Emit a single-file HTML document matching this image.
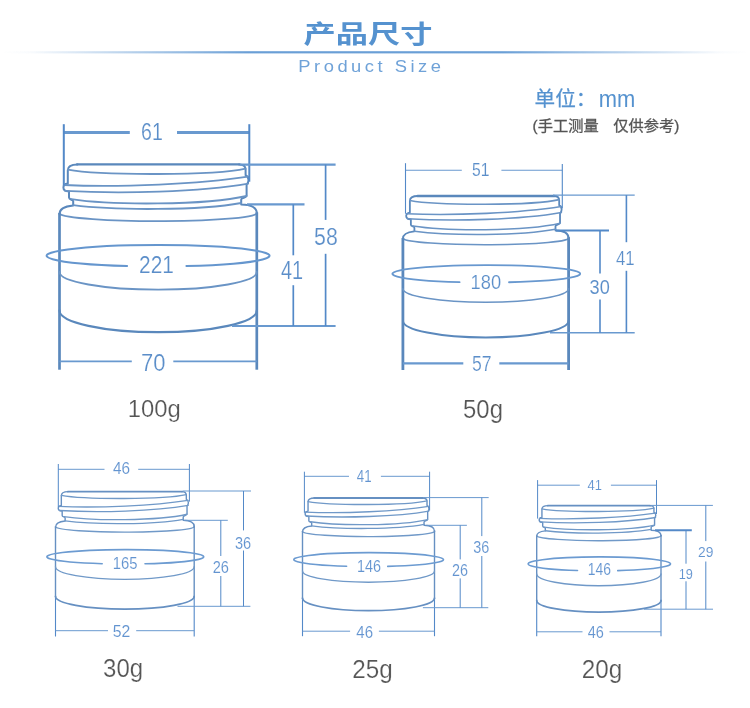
<!DOCTYPE html>
<html lang="zh"><head><meta charset="utf-8"><title>产品尺寸 Product Size</title>
<style>
html,body{margin:0;padding:0;background:#fff;}
body{width:750px;height:708px;overflow:hidden;font-family:"Liberation Sans",sans-serif;}
svg{display:block;position:absolute;left:0;top:0;}
svg text{font-family:"Liberation Sans","Noto Sans CJK SC",sans-serif;}
</style></head><body>
<svg width="750" height="708" viewBox="0 0 750 708">
<defs><linearGradient id="hl" x1="0" y1="0" x2="1" y2="0"><stop offset="0" stop-color="#6a9fd6" stop-opacity="0"/><stop offset="0.04" stop-color="#6a9fd6" stop-opacity="0.04"/><stop offset="0.33" stop-color="#6a9fd6" stop-opacity="1"/><stop offset="0.67" stop-color="#6a9fd6" stop-opacity="1"/><stop offset="0.96" stop-color="#6a9fd6" stop-opacity="0.04"/><stop offset="1" stop-color="#6a9fd6" stop-opacity="0"/></linearGradient></defs>
<g opacity="0.999">
<rect x="0" y="51.2" width="750" height="2.2" fill="url(#hl)"/>
<text transform="translate(303.5,43.4) scale(1.3,1)" font-size="24.8" font-weight="bold" fill="#5592cf">产品尺寸</text>
<text x="534.6" y="105.6" font-size="20.6" fill="#5592cf" stroke="#5592cf" stroke-width="0.25">单位：</text>
<text transform="translate(598.7,106.5) scale(0.903,1)" font-size="24.27" fill="#5592cf">mm</text>
<text transform="translate(532.6,130.6) scale(1,0.957)" font-size="15.26" fill="#555555" stroke="#555555" stroke-width="0.3">(手工测量</text>
<text transform="translate(613.2,130.6) scale(1,0.957)" font-size="15.26" fill="#555555" stroke="#555555" stroke-width="0.3">仅供参考)</text>
<text transform="translate(298.3,72.4) scale(1.08,1)" font-size="17" letter-spacing="3.25" fill="#6fa2d8">Product Size</text>
<g>
<path d="M59.5,214 C59.5,209 64,206.2 73.2,205.4 L73.2,201.2 C73.2,199.4 69,200 69,197.6 L69,191.6 C65,191.4 63.4,190 63.4,187.6 C63.4,185.2 65,184 67.8,183.6 L67.8,170.2 C67.8,166.2 71,164.4 77.5,164.4" fill="none" stroke="#5a88bc" stroke-width="2" stroke-linecap="round" stroke-linejoin="round"/>
<line x1="77" y1="164.4" x2="239.5" y2="164.4" stroke="#5a88bc" stroke-width="2.2" stroke-linecap="round"/>
<path d="M239,164.4 C243.2,164.4 245.6,166 245.6,169.4 L245.6,175.2 C247.6,176 248.5,178 248.5,180 C248.5,182.4 247.6,183.6 246.6,184.6 L246.6,195.4 C246.6,198 241.2,197.4 241.2,199.6 L241.2,204.4 C250,204.6 256.8,207 256.8,213.2" fill="none" stroke="#5a88bc" stroke-width="2" stroke-linecap="round" stroke-linejoin="round"/>
<path d="M67.8,169.6 C100,175.6 215,175.6 245.6,168.6" fill="none" stroke="#6a94c5" stroke-width="1.8" stroke-linecap="round" stroke-linejoin="round"/>
<path d="M64,185 C120,187.6 200,184 248,176.6" fill="none" stroke="#6a94c5" stroke-width="1.8" stroke-linecap="round" stroke-linejoin="round"/>
<path d="M65,190.8 C120,194 200,192 248.2,183.6" fill="none" stroke="#6a94c5" stroke-width="1.8" stroke-linecap="round" stroke-linejoin="round"/>
<path d="M71.4,199.2 C110,205.2 205,205.6 246.6,196" fill="none" stroke="#6a94c5" stroke-width="1.8" stroke-linecap="round" stroke-linejoin="round"/>
<path d="M73.2,205.2 C115,210.6 200,210.6 241.2,203" fill="none" stroke="#6a94c5" stroke-width="1.8" stroke-linecap="round" stroke-linejoin="round"/>
<path d="M59.5,213.6 A98.65 8 0 0 0 256.8,212.6" fill="none" stroke="#6a94c5" stroke-width="1.8" stroke-linecap="round" stroke-linejoin="round"/>
<line x1="59.5" y1="213.1" x2="59.5" y2="369.7" stroke="#5a88bc" stroke-width="2.7"/>
<line x1="256.8" y1="212.4" x2="256.8" y2="369.7" stroke="#5a88bc" stroke-width="2.7"/>
<path d="M59.5,272 A98.65 17.7 0 0 0 256.8,272" fill="none" stroke="#6a94c5" stroke-width="1.8" stroke-linecap="round" stroke-linejoin="round"/>
<path d="M59.5,310.4 A98.65 21.8 0 0 0 256.8,310.4" fill="none" stroke="#5a88bc" stroke-width="2.2" stroke-linecap="round" stroke-linejoin="round"/>
<path d="M127.1,265.98 A111.5 10.7 0 1 1 186.4,266.05" fill="none" stroke="#6596ce" stroke-width="2" stroke-linecap="round" stroke-linejoin="round"/>
<line x1="63.8" y1="132.5" x2="129.8" y2="132.5" stroke="#6999cf" stroke-width="3"/>
<line x1="177" y1="132.5" x2="249.3" y2="132.5" stroke="#6999cf" stroke-width="3"/>
<line x1="63.8" y1="124.2" x2="63.8" y2="185.6" stroke="#5389c8" stroke-width="2"/>
<line x1="249.3" y1="124.2" x2="249.3" y2="181.7" stroke="#5389c8" stroke-width="2"/>
<line x1="240" y1="164.6" x2="335.6" y2="164.6" stroke="#6999cf" stroke-width="2.2"/>
<line x1="247" y1="204.4" x2="304.5" y2="204.4" stroke="#6999cf" stroke-width="2.2"/>
<line x1="232" y1="326" x2="335.6" y2="326" stroke="#6999cf" stroke-width="2.2"/>
<line x1="325.6" y1="164.6" x2="325.6" y2="219.9" stroke="#5389c8" stroke-width="1.7"/>
<line x1="325.6" y1="253.8" x2="325.6" y2="326" stroke="#5389c8" stroke-width="1.7"/>
<line x1="293.3" y1="204.4" x2="293.3" y2="255.3" stroke="#5389c8" stroke-width="1.7"/>
<line x1="293.3" y1="285.2" x2="293.3" y2="326" stroke="#5389c8" stroke-width="1.7"/>
<line x1="59.5" y1="361.4" x2="131.8" y2="361.4" stroke="#6999cf" stroke-width="1.8"/>
<line x1="173.3" y1="361.4" x2="256.8" y2="361.4" stroke="#6999cf" stroke-width="1.8"/>
<text transform="translate(141.1,139.85) scale(0.797,1)" font-size="24.59" fill="#5b8ec9" stroke="#ffffff" stroke-width="0.2">61</text>
<text transform="translate(314.1,244.96) scale(0.887,1)" font-size="24.03" fill="#5b8ec9" stroke="#ffffff" stroke-width="0.2">58</text>
<text transform="translate(281,279.4) scale(0.799,1)" font-size="24.87" fill="#5b8ec9" stroke="#ffffff" stroke-width="0.2">41</text>
<text transform="translate(141.1,370.85) scale(0.892,1)" font-size="24.59" fill="#5b8ec9" stroke="#ffffff" stroke-width="0.2">70</text>
<text transform="translate(139.1,273.2) scale(0.851,1)" font-size="24.52" fill="#5b8ec9" stroke="#ffffff" stroke-width="0.2">221</text>
<text transform="translate(127.8,416.85) scale(0.970,1)" font-size="24.59" fill="#555555" stroke="#ffffff" stroke-width="0.2">100g</text>
</g>
<g>
<path d="M402.9,238.78 C402.9,234.47 406.68,232.05 414.41,231.36 L414.41,227.74 C414.41,226.19 410.88,226.7 410.88,224.63 L410.88,219.46 C407.52,219.29 406.18,218.08 406.18,216.01 C406.18,213.94 407.52,212.91 409.87,212.56 L409.87,201 C409.87,197.55 412.56,196 418.02,196" fill="none" stroke="#5a88bc" stroke-width="1.8" stroke-linecap="round" stroke-linejoin="round"/>
<line x1="417.6" y1="196" x2="554.07" y2="196" stroke="#5a88bc" stroke-width="2.6" stroke-linecap="round"/>
<path d="M553.65,196 C557.18,196 559.19,197.38 559.19,200.31 L559.19,205.31 C560.87,206 561.63,207.73 561.63,209.45 C561.63,211.53 560.87,212.56 560.03,213.42 L560.03,222.74 C560.03,224.98 555.5,224.46 555.5,226.36 L555.5,230.5 C562.89,230.67 568.6,232.74 568.6,238.09" fill="none" stroke="#5a88bc" stroke-width="1.8" stroke-linecap="round" stroke-linejoin="round"/>
<path d="M409.87,200.48 C436.91,205.66 533.49,205.66 559.19,199.62" fill="none" stroke="#6a94c5" stroke-width="1.6" stroke-linecap="round" stroke-linejoin="round"/>
<path d="M406.68,213.77 C453.71,216.01 520.9,212.91 561.21,206.52" fill="none" stroke="#6a94c5" stroke-width="1.6" stroke-linecap="round" stroke-linejoin="round"/>
<path d="M407.52,218.77 C453.71,221.53 520.9,219.81 561.38,212.56" fill="none" stroke="#6a94c5" stroke-width="1.6" stroke-linecap="round" stroke-linejoin="round"/>
<path d="M412.89,226.01 C445.31,231.19 525.1,231.53 560.03,223.25" fill="none" stroke="#6a94c5" stroke-width="1.6" stroke-linecap="round" stroke-linejoin="round"/>
<path d="M414.41,231.19 C449.51,235.85 520.9,235.85 555.5,229.29" fill="none" stroke="#6a94c5" stroke-width="1.6" stroke-linecap="round" stroke-linejoin="round"/>
<path d="M402.9,238.44 A82.85 6.72 0 0 0 568.6,237.6" fill="none" stroke="#6a94c5" stroke-width="1.6" stroke-linecap="round" stroke-linejoin="round"/>
<line x1="402.9" y1="237.94" x2="402.9" y2="370" stroke="#5a88bc" stroke-width="2.8"/>
<line x1="568.6" y1="237.24" x2="568.6" y2="370" stroke="#5a88bc" stroke-width="2.8"/>
<path d="M402.9,288.8 A82.85 13.4 0 0 0 568.6,288.8" fill="none" stroke="#6a94c5" stroke-width="1.6" stroke-linecap="round" stroke-linejoin="round"/>
<path d="M402.9,320.7 A82.85 16.8 0 0 0 568.6,320.7" fill="none" stroke="#5a88bc" stroke-width="2" stroke-linecap="round" stroke-linejoin="round"/>
<path d="M459.6,282.14 A93.9 8.7 0 1 1 509,282.24" fill="none" stroke="#6898cf" stroke-width="1.8" stroke-linecap="round" stroke-linejoin="round"/>
<line x1="405.5" y1="170.2" x2="461.8" y2="170.2" stroke="#6999cf" stroke-width="1.1"/>
<line x1="501.4" y1="170.2" x2="562.3" y2="170.2" stroke="#6999cf" stroke-width="1.1"/>
<line x1="405.5" y1="163.2" x2="405.5" y2="213.7" stroke="#5389c8" stroke-width="1.1"/>
<line x1="562.3" y1="164" x2="562.3" y2="208.3" stroke="#5389c8" stroke-width="1.1"/>
<line x1="553" y1="195.1" x2="634.7" y2="195.1" stroke="#6999cf" stroke-width="1.2"/>
<line x1="556" y1="230.5" x2="609" y2="230.5" stroke="#5389c8" stroke-width="1.8"/>
<line x1="550" y1="332.7" x2="634.7" y2="332.7" stroke="#6999cf" stroke-width="1.6"/>
<line x1="626.4" y1="195.1" x2="626.4" y2="242.2" stroke="#5389c8" stroke-width="1.6"/>
<line x1="626.4" y1="270.8" x2="626.4" y2="332.7" stroke="#5389c8" stroke-width="1.6"/>
<line x1="600" y1="230.5" x2="600" y2="273.6" stroke="#5389c8" stroke-width="1.6"/>
<line x1="600" y1="299.6" x2="600" y2="332.7" stroke="#5389c8" stroke-width="1.6"/>
<line x1="402.9" y1="363.3" x2="463.3" y2="363.3" stroke="#6999cf" stroke-width="2.2"/>
<line x1="499.3" y1="363.3" x2="568.6" y2="363.3" stroke="#6999cf" stroke-width="2.2"/>
<text transform="translate(472,176.21) scale(0.826,1)" font-size="18.92" fill="#5b8ec9" stroke="#ffffff" stroke-width="0.1">51</text>
<text transform="translate(616,264.7) scale(0.825,1)" font-size="20.36" fill="#5b8ec9" stroke="#ffffff" stroke-width="0.2">41</text>
<text transform="translate(589.6,293.71) scale(0.938,1)" font-size="19.36" fill="#5b8ec9" stroke="#ffffff" stroke-width="0.1">30</text>
<text transform="translate(471.9,370.89) scale(0.825,1)" font-size="21.36" fill="#5b8ec9" stroke="#ffffff" stroke-width="0.2">57</text>
<text transform="translate(470.6,288.59) scale(0.869,1)" font-size="21.06" fill="#5b8ec9" stroke="#ffffff" stroke-width="0.2">180</text>
<text transform="translate(463.1,417.85) scale(0.954,1)" font-size="25.02" fill="#555555" stroke="#ffffff" stroke-width="0.2">50g</text>
</g>
<g>
<path d="M55.5,527.19 C55.5,523.6 58.66,521.59 65.13,521.02 L65.13,518 C65.13,516.71 62.18,517.14 62.18,515.42 L62.18,511.12 C59.37,510.97 58.24,509.97 58.24,508.25 C58.24,506.52 59.37,505.66 61.33,505.38 L61.33,495.76 C61.33,492.89 63.58,491.6 68.15,491.6" fill="none" stroke="#6690c2" stroke-width="1.4" stroke-linecap="round" stroke-linejoin="round"/>
<line x1="67.8" y1="491.6" x2="182.04" y2="491.6" stroke="#6690c2" stroke-width="1.9" stroke-linecap="round"/>
<path d="M181.69,491.6 C184.64,491.6 186.33,492.75 186.33,495.19 L186.33,499.35 C187.73,499.92 188.37,501.36 188.37,502.79 C188.37,504.51 187.73,505.38 187.03,506.09 L187.03,513.84 C187.03,515.71 183.23,515.28 183.23,516.86 L183.23,520.3 C189.42,520.44 194.2,522.17 194.2,526.61" fill="none" stroke="#6690c2" stroke-width="1.4" stroke-linecap="round" stroke-linejoin="round"/>
<path d="M61.33,495.33 C83.97,499.64 164.82,499.64 186.33,494.61" fill="none" stroke="#7099c8" stroke-width="1.35" stroke-linecap="round" stroke-linejoin="round"/>
<path d="M58.66,506.38 C98.03,508.25 154.27,505.66 188.01,500.35" fill="none" stroke="#7099c8" stroke-width="1.35" stroke-linecap="round" stroke-linejoin="round"/>
<path d="M59.37,510.54 C98.03,512.84 154.27,511.4 188.15,505.38" fill="none" stroke="#7099c8" stroke-width="1.35" stroke-linecap="round" stroke-linejoin="round"/>
<path d="M63.87,516.57 C91,520.87 157.79,521.16 187.03,514.27" fill="none" stroke="#7099c8" stroke-width="1.35" stroke-linecap="round" stroke-linejoin="round"/>
<path d="M65.13,520.87 C94.52,524.75 154.27,524.75 183.23,519.3" fill="none" stroke="#7099c8" stroke-width="1.35" stroke-linecap="round" stroke-linejoin="round"/>
<path d="M55.5,526.9 A69.35 5.62 0 0 0 194.2,526.2" fill="none" stroke="#7099c8" stroke-width="1.35" stroke-linecap="round" stroke-linejoin="round"/>
<line x1="55.5" y1="526.4" x2="55.5" y2="597.3" stroke="#6690c2" stroke-width="1.4"/>
<line x1="55.5" y1="596.3" x2="55.5" y2="636.5" stroke="#5389c8" stroke-width="1.1"/>
<line x1="194.2" y1="525.7" x2="194.2" y2="597.3" stroke="#6690c2" stroke-width="1.4"/>
<line x1="194.2" y1="596.3" x2="194.2" y2="636.5" stroke="#5389c8" stroke-width="1.1"/>
<path d="M55.5,566.7 A69.35 12.6 0 0 0 194.2,566.7" fill="none" stroke="#7099c8" stroke-width="1.35" stroke-linecap="round" stroke-linejoin="round"/>
<path d="M55.5,596.3 A69.35 12.9 0 0 0 194.2,596.3" fill="none" stroke="#6690c2" stroke-width="1.7" stroke-linecap="round" stroke-linejoin="round"/>
<path d="M102.2,563.68 A78.4 7.2 0 1 1 145,563.77" fill="none" stroke="#6c9bd1" stroke-width="1.6" stroke-linecap="round" stroke-linejoin="round"/>
<line x1="58.3" y1="469.3" x2="104.5" y2="469.3" stroke="#6999cf" stroke-width="1"/>
<line x1="138.2" y1="469.3" x2="189.4" y2="469.3" stroke="#6999cf" stroke-width="1"/>
<line x1="58.3" y1="464" x2="58.3" y2="507" stroke="#5389c8" stroke-width="1"/>
<line x1="189.4" y1="464" x2="189.4" y2="501.6" stroke="#5389c8" stroke-width="1"/>
<line x1="182.5" y1="491" x2="251" y2="491" stroke="#6999cf" stroke-width="1"/>
<line x1="184.3" y1="520.3" x2="227.8" y2="520.3" stroke="#6999cf" stroke-width="1"/>
<line x1="177.5" y1="606.3" x2="250.4" y2="606.3" stroke="#6999cf" stroke-width="1"/>
<line x1="243.5" y1="491" x2="243.5" y2="530.4" stroke="#5389c8" stroke-width="1"/>
<line x1="243.5" y1="550.5" x2="243.5" y2="606.3" stroke="#5389c8" stroke-width="1"/>
<line x1="220.8" y1="520.3" x2="220.8" y2="556" stroke="#5389c8" stroke-width="1"/>
<line x1="220.8" y1="576" x2="220.8" y2="606.3" stroke="#5389c8" stroke-width="1"/>
<line x1="55.5" y1="630.7" x2="108" y2="630.7" stroke="#6999cf" stroke-width="1"/>
<line x1="136.2" y1="630.7" x2="194.2" y2="630.7" stroke="#6999cf" stroke-width="1"/>
<text transform="translate(113,474.24) scale(0.937,1)" font-size="16.4" fill="#6394d0" stroke="#ffffff" stroke-width="0.1">46</text>
<text transform="translate(235,549.24) scale(0.920,1)" font-size="15.83" fill="#6394d0" stroke="#ffffff" stroke-width="0.1">36</text>
<text transform="translate(212.7,573.23) scale(0.878,1)" font-size="16.68" fill="#6394d0" stroke="#ffffff" stroke-width="0.1">26</text>
<text transform="translate(112.7,636.83) scale(0.957,1)" font-size="16.54" fill="#6394d0" stroke="#ffffff" stroke-width="0.1">52</text>
<text transform="translate(112.7,568.84) scale(0.944,1)" font-size="15.69" fill="#6394d0" stroke="#ffffff" stroke-width="0.1">165</text>
<text transform="translate(103.1,676.85) scale(0.959,1)" font-size="25.02" fill="#555555" stroke="#ffffff" stroke-width="0.2">30g</text>
</g>
<g>
<path d="M302.5,531.85 C302.5,528.44 305.51,526.53 311.67,525.98 L311.67,523.12 C311.67,521.89 308.86,522.3 308.86,520.66 L308.86,516.56 C306.18,516.43 305.11,515.47 305.11,513.83 C305.11,512.2 306.18,511.38 308.05,511.1 L308.05,501.96 C308.05,499.23 310.19,498 314.54,498" fill="none" stroke="#6690c2" stroke-width="1.4" stroke-linecap="round" stroke-linejoin="round"/>
<line x1="314.21" y1="498" x2="422.93" y2="498" stroke="#6690c2" stroke-width="1.9" stroke-linecap="round"/>
<path d="M422.59,498 C425.4,498 427.01,499.09 427.01,501.41 L427.01,505.37 C428.34,505.92 428.95,507.28 428.95,508.65 C428.95,510.28 428.34,511.1 427.68,511.79 L427.68,519.16 C427.68,520.93 424.06,520.52 424.06,522.02 L424.06,525.3 C429.95,525.44 434.5,527.07 434.5,531.31" fill="none" stroke="#6690c2" stroke-width="1.4" stroke-linecap="round" stroke-linejoin="round"/>
<path d="M308.05,501.55 C329.6,505.64 406.53,505.64 427.01,500.87" fill="none" stroke="#7099c8" stroke-width="1.35" stroke-linecap="round" stroke-linejoin="round"/>
<path d="M305.51,512.06 C342.98,513.83 396.5,511.38 428.61,506.33" fill="none" stroke="#7099c8" stroke-width="1.35" stroke-linecap="round" stroke-linejoin="round"/>
<path d="M306.18,516.02 C342.98,518.2 396.5,516.84 428.75,511.1" fill="none" stroke="#7099c8" stroke-width="1.35" stroke-linecap="round" stroke-linejoin="round"/>
<path d="M310.46,521.75 C336.29,525.85 399.84,526.12 427.68,519.57" fill="none" stroke="#7099c8" stroke-width="1.35" stroke-linecap="round" stroke-linejoin="round"/>
<path d="M311.67,525.85 C339.63,529.53 396.5,529.53 424.06,524.34" fill="none" stroke="#7099c8" stroke-width="1.35" stroke-linecap="round" stroke-linejoin="round"/>
<path d="M302.5,531.58 A66 5.35 0 0 0 434.5,530.91" fill="none" stroke="#7099c8" stroke-width="1.35" stroke-linecap="round" stroke-linejoin="round"/>
<line x1="302.5" y1="531.08" x2="302.5" y2="599" stroke="#6690c2" stroke-width="1.4"/>
<line x1="302.5" y1="598" x2="302.5" y2="636.2" stroke="#5389c8" stroke-width="1.1"/>
<line x1="434.5" y1="530.38" x2="434.5" y2="599" stroke="#6690c2" stroke-width="1.4"/>
<line x1="434.5" y1="598" x2="434.5" y2="636.2" stroke="#5389c8" stroke-width="1.1"/>
<path d="M302.5,571 A66 11.2 0 0 0 434.5,571" fill="none" stroke="#7099c8" stroke-width="1.35" stroke-linecap="round" stroke-linejoin="round"/>
<path d="M302.5,598 A66 12.7 0 0 0 434.5,598" fill="none" stroke="#6690c2" stroke-width="1.7" stroke-linecap="round" stroke-linejoin="round"/>
<path d="M346.6,566.29 A74.85 7 0 1 1 387.7,566.37" fill="none" stroke="#6c9bd1" stroke-width="1.6" stroke-linecap="round" stroke-linejoin="round"/>
<line x1="304.4" y1="476.3" x2="349" y2="476.3" stroke="#6999cf" stroke-width="1"/>
<line x1="380.9" y1="476.3" x2="429.6" y2="476.3" stroke="#6999cf" stroke-width="1"/>
<line x1="304.4" y1="471.7" x2="304.4" y2="512.8" stroke="#5389c8" stroke-width="1"/>
<line x1="429.6" y1="471.7" x2="429.6" y2="510.5" stroke="#5389c8" stroke-width="1"/>
<line x1="423.4" y1="497.6" x2="488.7" y2="497.6" stroke="#6999cf" stroke-width="1"/>
<line x1="426.5" y1="525.3" x2="466.9" y2="525.3" stroke="#6999cf" stroke-width="1"/>
<line x1="422.9" y1="607.7" x2="488.3" y2="607.7" stroke="#6999cf" stroke-width="1"/>
<line x1="481.8" y1="497.6" x2="481.8" y2="536.1" stroke="#5389c8" stroke-width="1"/>
<line x1="481.8" y1="556" x2="481.8" y2="607.7" stroke="#5389c8" stroke-width="1"/>
<line x1="460.2" y1="525.3" x2="460.2" y2="559.4" stroke="#5389c8" stroke-width="1"/>
<line x1="460.2" y1="578.4" x2="460.2" y2="607.7" stroke="#5389c8" stroke-width="1"/>
<line x1="302.5" y1="631.2" x2="350.1" y2="631.2" stroke="#6999cf" stroke-width="1"/>
<line x1="378.9" y1="631.2" x2="434.5" y2="631.2" stroke="#6999cf" stroke-width="1"/>
<text transform="translate(356.8,481.8) scale(0.839,1)" font-size="15.85" fill="#6394d0" stroke="#ffffff" stroke-width="0.1">41</text>
<text transform="translate(473.3,552.84) scale(0.909,1)" font-size="15.83" fill="#6394d0" stroke="#ffffff" stroke-width="0.1">36</text>
<text transform="translate(451.9,575.84) scale(0.900,1)" font-size="15.97" fill="#6394d0" stroke="#ffffff" stroke-width="0.1">26</text>
<text transform="translate(356.3,637.54) scale(0.924,1)" font-size="16.25" fill="#6394d0" stroke="#ffffff" stroke-width="0.1">46</text>
<text transform="translate(356.9,571.84) scale(0.909,1)" font-size="15.83" fill="#6394d0" stroke="#ffffff" stroke-width="0.1">146</text>
<text transform="translate(352.2,677.75) scale(0.952,1)" font-size="25.44" fill="#555555" stroke="#ffffff" stroke-width="0.2">25g</text>
</g>
<g>
<path d="M536.7,536.23 C536.7,533.14 539.54,531.41 545.33,530.92 L545.33,528.32 C545.33,527.21 542.69,527.58 542.69,526.1 L542.69,522.4 C540.17,522.27 539.16,521.41 539.16,519.93 C539.16,518.44 540.17,517.7 541.93,517.46 L541.93,509.18 C541.93,506.71 543.95,505.6 548.04,505.6" fill="none" stroke="#6690c2" stroke-width="1.4" stroke-linecap="round" stroke-linejoin="round"/>
<line x1="547.73" y1="505.6" x2="650.1" y2="505.6" stroke="#6690c2" stroke-width="1.9" stroke-linecap="round"/>
<path d="M649.79,505.6 C652.43,505.6 653.94,506.59 653.94,508.69 L653.94,512.27 C655.2,512.76 655.77,514 655.77,515.23 C655.77,516.72 655.2,517.46 654.57,518.07 L654.57,524.74 C654.57,526.35 651.17,525.98 651.17,527.34 L651.17,530.3 C656.72,530.42 661,531.91 661,535.73" fill="none" stroke="#6690c2" stroke-width="1.4" stroke-linecap="round" stroke-linejoin="round"/>
<path d="M541.93,508.81 C562.22,512.52 634.67,512.52 653.94,508.19" fill="none" stroke="#7099c8" stroke-width="1.35" stroke-linecap="round" stroke-linejoin="round"/>
<path d="M539.54,518.32 C574.82,519.93 625.22,517.7 655.46,513.13" fill="none" stroke="#7099c8" stroke-width="1.35" stroke-linecap="round" stroke-linejoin="round"/>
<path d="M540.17,521.9 C574.82,523.88 625.22,522.64 655.58,517.46" fill="none" stroke="#7099c8" stroke-width="1.35" stroke-linecap="round" stroke-linejoin="round"/>
<path d="M544.2,527.09 C568.52,530.79 628.37,531.04 654.57,525.11" fill="none" stroke="#7099c8" stroke-width="1.35" stroke-linecap="round" stroke-linejoin="round"/>
<path d="M545.33,530.79 C571.67,534.13 625.22,534.13 651.17,529.44" fill="none" stroke="#7099c8" stroke-width="1.35" stroke-linecap="round" stroke-linejoin="round"/>
<path d="M536.7,535.98 A62.15 5.04 0 0 0 661,535.35" fill="none" stroke="#7099c8" stroke-width="1.35" stroke-linecap="round" stroke-linejoin="round"/>
<line x1="536.7" y1="535.48" x2="536.7" y2="601.4" stroke="#6690c2" stroke-width="1.4"/>
<line x1="536.7" y1="600.4" x2="536.7" y2="636.2" stroke="#5389c8" stroke-width="1.1"/>
<line x1="661" y1="534.78" x2="661" y2="601.4" stroke="#6690c2" stroke-width="1.4"/>
<line x1="661" y1="600.4" x2="661" y2="636.2" stroke="#5389c8" stroke-width="1.1"/>
<path d="M536.7,574 A62.15 11.7 0 0 0 661,574" fill="none" stroke="#7099c8" stroke-width="1.35" stroke-linecap="round" stroke-linejoin="round"/>
<path d="M536.7,600.4 A62.15 11.7 0 0 0 661,600.4" fill="none" stroke="#6690c2" stroke-width="1.7" stroke-linecap="round" stroke-linejoin="round"/>
<path d="M577.5,570.56 A71.2 7 0 1 1 617.7,570.66" fill="none" stroke="#6c9bd1" stroke-width="1.6" stroke-linecap="round" stroke-linejoin="round"/>
<line x1="537.6" y1="485.2" x2="579.8" y2="485.2" stroke="#6999cf" stroke-width="1"/>
<line x1="610.9" y1="485.2" x2="656.5" y2="485.2" stroke="#6999cf" stroke-width="1"/>
<line x1="537.6" y1="480.1" x2="537.6" y2="518.6" stroke="#5389c8" stroke-width="1"/>
<line x1="656.5" y1="480.1" x2="656.5" y2="514" stroke="#5389c8" stroke-width="1"/>
<line x1="651" y1="505.4" x2="712.9" y2="505.4" stroke="#6999cf" stroke-width="1"/>
<line x1="655" y1="530.3" x2="691.8" y2="530.3" stroke="#5389c8" stroke-width="2"/>
<line x1="644" y1="609.2" x2="713" y2="609.2" stroke="#6999cf" stroke-width="1"/>
<line x1="705.8" y1="505.4" x2="705.8" y2="541.1" stroke="#5389c8" stroke-width="1"/>
<line x1="705.8" y1="561.5" x2="705.8" y2="609.2" stroke="#5389c8" stroke-width="1"/>
<line x1="686" y1="530.3" x2="686" y2="563.7" stroke="#5389c8" stroke-width="1"/>
<line x1="686" y1="581.3" x2="686" y2="609.2" stroke="#5389c8" stroke-width="1"/>
<line x1="536.7" y1="631.8" x2="582.5" y2="631.8" stroke="#6999cf" stroke-width="1"/>
<line x1="609.5" y1="631.8" x2="661" y2="631.8" stroke="#6999cf" stroke-width="1"/>
<text transform="translate(698,556.85) scale(0.924,1)" font-size="14.98" fill="#6394d0" stroke="#ffffff" stroke-width="0.1">29</text>
<text transform="translate(678.7,578.85) scale(0.852,1)" font-size="14.98" fill="#6394d0" stroke="#ffffff" stroke-width="0.1">19</text>
<text transform="translate(587.6,489.9) scale(0.840,1)" font-size="15.42" fill="#6394d0" stroke="#ffffff" stroke-width="0.1">41</text>
<text transform="translate(587.7,637.84) scale(0.920,1)" font-size="15.83" fill="#6394d0" stroke="#ffffff" stroke-width="0.1">46</text>
<text transform="translate(587.7,574.74) scale(0.879,1)" font-size="15.83" fill="#6394d0" stroke="#ffffff" stroke-width="0.1">146</text>
<text transform="translate(581.8,677.75) scale(0.952,1)" font-size="25.44" fill="#555555" stroke="#ffffff" stroke-width="0.2">20g</text>
</g>
</g>
</svg>
</body></html>
